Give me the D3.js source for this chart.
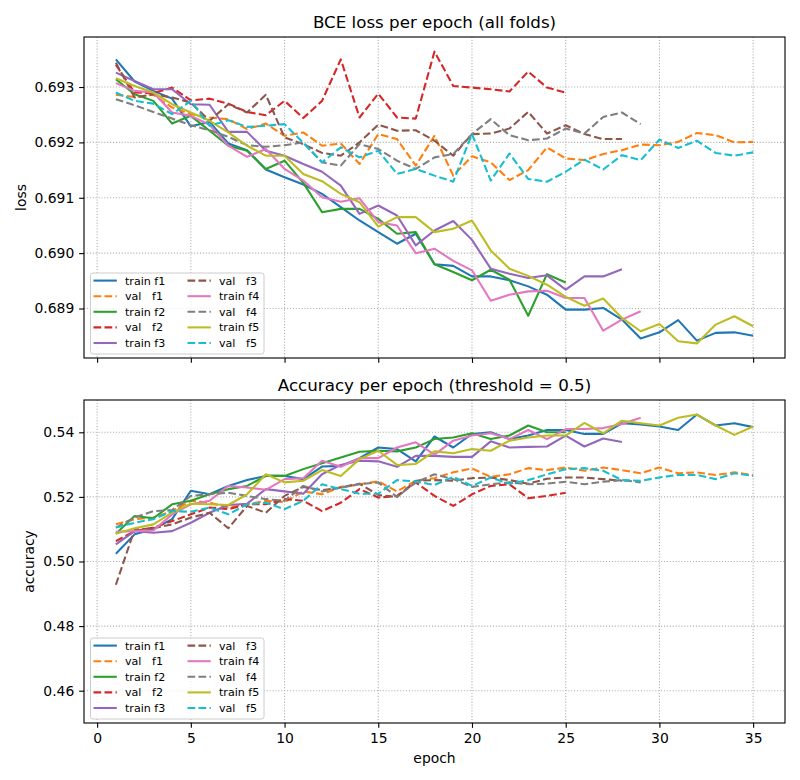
<!DOCTYPE html>
<html>

<head>
    <meta charset="utf-8">
    <script src="https://d3js.org/d3.v7.min.js"></script>
    <style>
        body { margin: 0; background: #fff; }
        text { font-family: "DejaVu Sans", sans-serif; }
    </style>
</head>

<body>
    <div id="chart"></div>
    <script>
    // values, one entry per epoch (epoch 1 first)
    var lossTrainF1 = [0.6935, 0.6931, 0.69293, 0.69279, 0.69229, 0.69237, 0.69198, 0.69186, 0.69151, 0.69137, 0.69124, 0.69107, 0.69083, 0.69059, 0.69038, 0.69017, 0.69035, 0.6898, 0.68977, 0.68958, 0.68958, 0.68951, 0.6894, 0.68925, 0.68898, 0.68898, 0.68901, 0.6888, 0.68846, 0.68857, 0.68879, 0.68842, 0.68856, 0.68857, 0.68851];
    var lossValF1 = [0.69286, 0.69282, 0.69286, 0.69263, 0.69251, 0.69245, 0.69242, 0.69224, 0.69234, 0.69212, 0.69218, 0.69194, 0.69198, 0.69161, 0.69215, 0.69206, 0.69158, 0.69212, 0.6914, 0.69175, 0.69164, 0.69132, 0.6915, 0.69191, 0.69171, 0.69168, 0.69179, 0.69186, 0.69196, 0.69195, 0.69201, 0.69217, 0.69213, 0.692, 0.69201];
    var lossTrainF2 = [0.69314, 0.69287, 0.69275, 0.69234, 0.69248, 0.69221, 0.69194, 0.69185, 0.69152, 0.69167, 0.69127, 0.69074, 0.6908, 0.6908, 0.69062, 0.69035, 0.69038, 0.6898, 0.68966, 0.68951, 0.6897, 0.68952, 0.68887, 0.68962, 0.68947];
    var lossValF2 = [0.6934, 0.6929, 0.69289, 0.69299, 0.69276, 0.69279, 0.6927, 0.69255, 0.69249, 0.69275, 0.69244, 0.69275, 0.6935, 0.69245, 0.69288, 0.69245, 0.69243, 0.69364, 0.69302, 0.69299, 0.69296, 0.69292, 0.69328, 0.69299, 0.6929];
    var lossTrainF3 = [0.69326, 0.69311, 0.69296, 0.69296, 0.69269, 0.69268, 0.69219, 0.69219, 0.69185, 0.69176, 0.69161, 0.69147, 0.69122, 0.69071, 0.69086, 0.69068, 0.69014, 0.69041, 0.69058, 0.69024, 0.68972, 0.68963, 0.68955, 0.6896, 0.68934, 0.68958, 0.68958, 0.68971];
    var lossValF3 = [0.69344, 0.69281, 0.69287, 0.69281, 0.69272, 0.69239, 0.69269, 0.69254, 0.69286, 0.69209, 0.69197, 0.69181, 0.69176, 0.692, 0.69232, 0.69221, 0.69222, 0.69203, 0.69176, 0.69215, 0.69216, 0.69225, 0.69255, 0.69216, 0.69231, 0.69215, 0.69206, 0.69206];
    var lossTrainF4 = [0.69307, 0.69293, 0.6929, 0.69254, 0.69248, 0.69232, 0.69194, 0.69174, 0.69188, 0.69152, 0.69131, 0.69101, 0.69093, 0.69099, 0.69056, 0.6905, 0.69, 0.69008, 0.68986, 0.68969, 0.68914, 0.68925, 0.68931, 0.68932, 0.68919, 0.68919, 0.6886, 0.6888, 0.68895];
    var lossValF4 = [0.69278, 0.69267, 0.69255, 0.69243, 0.69231, 0.69222, 0.6921, 0.69195, 0.69192, 0.69195, 0.692, 0.69164, 0.69158, 0.69197, 0.69188, 0.69167, 0.69152, 0.69173, 0.69179, 0.69215, 0.69242, 0.69213, 0.69204, 0.69207, 0.69225, 0.69216, 0.69246, 0.69254, 0.69233];
    var lossTrainF5 = [0.69316, 0.69302, 0.6929, 0.69269, 0.69254, 0.69239, 0.69218, 0.69194, 0.69176, 0.69176, 0.69143, 0.6913, 0.69107, 0.69092, 0.69048, 0.69065, 0.69065, 0.69038, 0.69044, 0.69059, 0.69005, 0.68972, 0.68959, 0.68943, 0.68921, 0.68905, 0.68918, 0.68883, 0.68859, 0.68872, 0.68841, 0.68837, 0.68871, 0.68886, 0.68868];
    var lossValF5 = [0.6929, 0.69275, 0.6927, 0.69251, 0.69275, 0.6923, 0.6924, 0.69228, 0.6923, 0.69233, 0.69199, 0.69164, 0.69191, 0.69173, 0.69185, 0.69143, 0.69152, 0.6914, 0.69129, 0.69215, 0.69131, 0.6918, 0.69134, 0.69129, 0.69147, 0.69169, 0.69151, 0.69177, 0.69168, 0.69205, 0.6919, 0.69203, 0.69181, 0.69176, 0.69182];

    var accTrainF1 = [0.5024, 0.5084, 0.51, 0.5131, 0.5219, 0.5208, 0.5234, 0.5252, 0.5265, 0.5265, 0.5255, 0.5294, 0.5296, 0.532, 0.5353, 0.5348, 0.531, 0.5387, 0.5353, 0.5395, 0.54, 0.5379, 0.539, 0.5407, 0.5407, 0.5395, 0.5395, 0.5428, 0.5424, 0.5418, 0.5407, 0.5455, 0.5421, 0.5428, 0.5416];
    var accValF1 = [0.5115, 0.5131, 0.5136, 0.5156, 0.5188, 0.5182, 0.5167, 0.5177, 0.5188, 0.5184, 0.5217, 0.5208, 0.5231, 0.5239, 0.5248, 0.5217, 0.525, 0.5258, 0.5276, 0.5288, 0.5262, 0.527, 0.5289, 0.5283, 0.5291, 0.5281, 0.5291, 0.5283, 0.5273, 0.5291, 0.5273, 0.5276, 0.5268, 0.5276, 0.5267];
    var accTrainF2 = [0.5086, 0.5141, 0.5134, 0.5177, 0.5188, 0.5208, 0.5224, 0.5234, 0.5265, 0.5265, 0.5286, 0.5304, 0.5322, 0.534, 0.5343, 0.5341, 0.5353, 0.5379, 0.5384, 0.5397, 0.5379, 0.539, 0.5421, 0.54, 0.54];
    var accValF2 = [0.5063, 0.5094, 0.5105, 0.5125, 0.5146, 0.5167, 0.5162, 0.5177, 0.5177, 0.5193, 0.5188, 0.5156, 0.5182, 0.5224, 0.5198, 0.5203, 0.5245, 0.5203, 0.5172, 0.5208, 0.5234, 0.5239, 0.5196, 0.5203, 0.5213];
    var accTrainF3 = [0.5053, 0.5094, 0.5089, 0.5094, 0.512, 0.5151, 0.5175, 0.5179, 0.5224, 0.5217, 0.521, 0.527, 0.5299, 0.5312, 0.531, 0.5293, 0.5327, 0.5327, 0.5324, 0.5324, 0.5372, 0.5353, 0.5355, 0.5356, 0.539, 0.5356, 0.5381, 0.537];
    var accValF3 = [0.4928, 0.5099, 0.5103, 0.5115, 0.5136, 0.5151, 0.5103, 0.5172, 0.5151, 0.5203, 0.5231, 0.5221, 0.5229, 0.5241, 0.5206, 0.52, 0.525, 0.5252, 0.525, 0.5258, 0.526, 0.5252, 0.5241, 0.5256, 0.526, 0.526, 0.5255, 0.525];
    var accTrainF4 = [0.5092, 0.5094, 0.5096, 0.5146, 0.5177, 0.5188, 0.5234, 0.5229, 0.5222, 0.5255, 0.5258, 0.5312, 0.5293, 0.532, 0.532, 0.5353, 0.5369, 0.5331, 0.5374, 0.539, 0.5397, 0.5379, 0.5407, 0.5379, 0.541, 0.541, 0.5413, 0.5426, 0.5445];
    var accValF4 = [0.5105, 0.5136, 0.5156, 0.5159, 0.5203, 0.5208, 0.5213, 0.5203, 0.5193, 0.5188, 0.5234, 0.5217, 0.5229, 0.5239, 0.5245, 0.52, 0.5245, 0.527, 0.5255, 0.5231, 0.5239, 0.5245, 0.5239, 0.5241, 0.5247, 0.5239, 0.5247, 0.5252, 0.5245];
    var accTrainF5 = [0.5086, 0.5103, 0.5115, 0.5151, 0.5179, 0.5177, 0.5175, 0.5208, 0.527, 0.5245, 0.525, 0.5283, 0.5265, 0.5317, 0.5343, 0.5299, 0.5302, 0.5341, 0.5335, 0.5348, 0.5343, 0.5374, 0.5384, 0.539, 0.539, 0.5429, 0.5397, 0.5436, 0.5428, 0.5421, 0.5445, 0.5455, 0.5421, 0.5392, 0.5418];
    var accValF5 = [0.5105, 0.512, 0.5131, 0.5156, 0.5154, 0.5167, 0.5146, 0.5177, 0.5182, 0.5162, 0.5188, 0.5239, 0.5224, 0.521, 0.521, 0.5252, 0.5248, 0.5237, 0.5262, 0.5234, 0.526, 0.5241, 0.5252, 0.527, 0.5286, 0.5289, 0.5281, 0.5252, 0.525, 0.526, 0.5268, 0.5268, 0.5255, 0.5273, 0.5265];

    var seriesLabels = ["train f1", "val   f1", "train f2", "val   f2", "train f3", "val   f3", "train f4", "val   f4", "train f5", "val   f5"];
    var seriesColors = ["#1f77b4", "#ff7f0e", "#2ca02c", "#d62728", "#9467bd", "#8c564b", "#e377c2", "#7f7f7f", "#bcbd22", "#17becf"];
    var xTicks = [0, 5, 10, 15, 20, 25, 30, 35];
    var lossTicks = [0.689, 0.690, 0.691, 0.692, 0.693];
    var accTicks = [0.46, 0.48, 0.50, 0.52, 0.54];

    var lossSeries = [lossTrainF1, lossValF1, lossTrainF2, lossValF2, lossTrainF3, lossValF3, lossTrainF4, lossValF4, lossTrainF5, lossValF5];
    var accSeries = [accTrainF1, accValF1, accTrainF2, accValF2, accTrainF3, accValF3, accTrainF4, accValF4, accTrainF5, accValF5];

    var width = 800, height = 780;
    var left = 84, right = 785;
    var pt = 100 / 72; // matplotlib points -> px

    var svg = d3.select("#chart")
        .append("svg")
        .attr("width", width)
        .attr("height", height);

    var x = d3.scaleLinear().domain([-0.7, 36.7]).range([left, right]);

    // loss panel gets matplotlib-like 5% padding, accuracy panel is fixed
    var lossMin = d3.min(lossSeries, function(s) { return d3.min(s); });
    var lossMax = d3.max(lossSeries, function(s) { return d3.max(s); });
    var pad = (lossMax - lossMin) * 0.05;

    drawPanel({
        top: 37, bottom: 358,
        domain: [lossMin - pad, lossMax + pad],
        series: lossSeries,
        ticks: lossTicks, fmt: d3.format(".3f"),
        title: "BCE loss per epoch (all folds)",
        ylabel: "loss",
        xlabels: false
    });

    drawPanel({
        top: 400, bottom: 723,
        domain: [0.45, 0.55],
        series: accSeries,
        ticks: accTicks, fmt: d3.format(".2f"),
        title: "Accuracy per epoch (threshold = 0.5)",
        ylabel: "accuracy",
        xlabels: true
    });

    function drawPanel(p) {
        var y = d3.scaleLinear().domain(p.domain).range([p.bottom, p.top]);
        var g = svg.append("g");

        // dotted grid
        g.selectAll(".gx").data(xTicks).enter().append("line")
            .attr("x1", function(d) { return x(d); })
            .attr("x2", function(d) { return x(d); })
            .attr("y1", p.top).attr("y2", p.bottom)
            .style("stroke", "#b0b0b0").style("stroke-width", 0.8 * pt)
            .style("stroke-dasharray", "1.1,1.8");
        g.selectAll(".gy").data(p.ticks).enter().append("line")
            .attr("x1", left).attr("x2", right)
            .attr("y1", function(d) { return y(d); })
            .attr("y2", function(d) { return y(d); })
            .style("stroke", "#b0b0b0").style("stroke-width", 0.8 * pt)
            .style("stroke-dasharray", "1.1,1.8");

        var line = d3.line()
            .x(function(d, i) { return x(i + 1); })
            .y(function(d) { return y(d); });

        g.selectAll(".series").data(p.series).enter().append("path")
            .attr("d", line)
            .style("fill", "none")
            .style("stroke", function(d, i) { return seriesColors[i]; })
            .style("stroke-width", 1.5 * pt)
            .style("stroke-linejoin", "round")
            .style("stroke-dasharray", function(d, i) { return i % 2 ? "7.7,3.3" : null; });

        // axes
        var yAxis = d3.axisLeft(y).tickValues(p.ticks).tickFormat(p.fmt)
            .tickSize(3.5 * pt).tickPadding(3.5 * pt).tickSizeOuter(0);
        var xAxis = d3.axisBottom(x).tickValues(xTicks)
            .tickSize(3.5 * pt).tickPadding(3.5 * pt).tickSizeOuter(0);
        if (!p.xlabels) xAxis.tickFormat("");

        var ya = g.append("g").attr("transform", "translate(" + left + ",0)").call(yAxis);
        var xa = g.append("g").attr("transform", "translate(0," + p.bottom + ")").call(xAxis);
        [ya, xa].forEach(function(a) {
            a.select(".domain").remove();
            a.selectAll(".tick line").style("stroke", "#000").style("stroke-width", 0.8 * pt);
            a.selectAll("text").style("font-family", "DejaVu Sans").style("font-size", "13.9px").style("fill", "#000");
        });

        g.append("rect")
            .attr("x", left).attr("y", p.top)
            .attr("width", right - left).attr("height", p.bottom - p.top)
            .style("fill", "none").style("stroke", "#000").style("stroke-width", 0.8 * pt);

        g.append("text")
            .attr("x", (left + right) / 2).attr("y", p.top - 9)
            .attr("text-anchor", "middle")
            .style("font-size", "16.7px")
            .text(p.title);

        // ylabel sits left of the widest tick label
        var labelW = d3.max(ya.selectAll("text").nodes(), function(n) { return n.getBBox().width; });
        var ylx = left - 7 * pt - labelW - 5.6 - 3.3;
        g.append("text")
            .attr("transform", "translate(" + ylx + "," + (p.top + p.bottom) / 2 + ") rotate(-90)")
            .attr("text-anchor", "middle")
            .style("font-size", "13.9px")
            .text(p.ylabel);

        if (p.xlabels) {
            g.append("text")
                .attr("x", (left + right) / 2).attr("y", 763)
                .attr("text-anchor", "middle")
                .style("font-size", "13.9px")
                .text("epoch");
        }

        // legend, two columns of five
        var lg = g.append("g").attr("transform", "translate(90.5," + (p.bottom - 85) + ")");
        lg.append("rect")
            .attr("width", 173.5).attr("height", 81).attr("rx", 2.5)
            .style("fill", "#fff").style("fill-opacity", 0.8)
            .style("stroke", "#cccccc").style("stroke-width", 1);

        var item = lg.selectAll(".item").data(seriesLabels).enter().append("g")
            .attr("transform", function(d, i) {
                var col = Math.floor(i / 5), row = i % 5;
                return "translate(" + (3 + col * 94) + "," + (7.6 + row * 15.6) + ")";
            });
        item.append("line")
            .attr("x1", 0).attr("x2", 23.3)
            .style("stroke", function(d, i) { return seriesColors[i]; })
            .style("stroke-width", 1.5 * pt)
            .style("stroke-dasharray", function(d, i) { return i % 2 ? "7.7,3.3" : null; });
        item.append("text")
            .attr("x", 31.5).attr("y", 4)
            .attr("xml:space", "preserve")
            .style("white-space", "pre")
            .style("font-size", "11.1px")
            .text(function(d) { return d; });
    }
    </script>
</body>

</html>
